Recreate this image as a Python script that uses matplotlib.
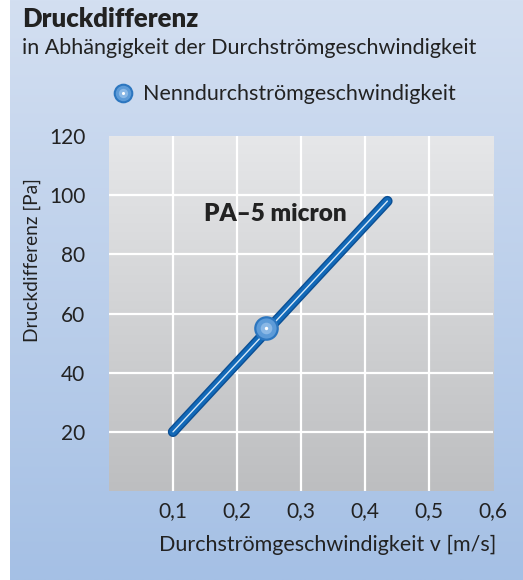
import numpy as np
import matplotlib
matplotlib.use("Agg")
import matplotlib.pyplot as plt
from matplotlib.colors import LinearSegmentedColormap

plt.rcParams['font.family'] = ['Lato', 'DejaVu Sans']

# data
v_line = [0.1, 0.435]          # m/s
dp_line = [20, 98]             # Pa
v_nominal = [0.245]
dp_nominal = [55]
x_ticks = [0.1, 0.2, 0.3, 0.4, 0.5, 0.6]
x_ticklabels = ["0,1", "0,2", "0,3", "0,4", "0,5", "0,6"]
y_ticks = [20, 40, 60, 80, 100, 120]
series_label = "PA–5 micron"
legend_label = "Nenndurchströmgeschwindigkeit"

TXT = "#222222"

fig = plt.figure(figsize=(5.23, 5.8), dpi=100)

# blue panel background with vertical gradient
bg = fig.add_axes([10 / 523, 0, 513 / 523, 1], zorder=-10)
panel_cmap = LinearSegmentedColormap.from_list("panel", ["#d3dff1", "#a5c0e5"])
bg.imshow(np.linspace(0, 1, 256).reshape(-1, 1), cmap=panel_cmap, aspect="auto",
          extent=[0, 1, 0, 1])
bg.axis("off")

ax = fig.add_axes([109 / 523, 89 / 580, 384 / 523, 355 / 580])
plot_cmap = LinearSegmentedColormap.from_list("plot", ["#e6e7e9", "#bdbec0"])
ax.imshow(np.linspace(0, 1, 256).reshape(-1, 1), cmap=plot_cmap, aspect="auto",
          extent=[0, 0.6, 0, 120], zorder=0)
ax.set_xlim(0, 0.6)
ax.set_ylim(0, 120)

for x in x_ticks[:-1]:
    ax.axvline(x, color="white", lw=1.6, zorder=1)
for y in y_ticks[:-1]:
    ax.axhline(y, color="white", lw=1.6, zorder=1)

# line with highlight
ax.plot(v_line, dp_line, color="#0b4f94", lw=7.5, solid_capstyle="round", zorder=3)
ax.plot(v_line, dp_line, color="#1269b8", lw=5.5, solid_capstyle="round", zorder=3)
ax.plot(v_line, dp_line, color="#d6e8f7", lw=1.0, solid_capstyle="round", zorder=4)

# nominal point
ax.scatter(v_nominal, dp_nominal, s=260, color="#5d9bd8", edgecolors="#2c76bf",
           linewidths=1.6, zorder=5)
ax.scatter(v_nominal, dp_nominal, s=70, color="#8ab8e6", linewidths=0, zorder=6)
ax.scatter(v_nominal, dp_nominal, s=6, color="white", linewidths=0, zorder=7)

ax.text(0.148, 93.5, series_label, fontsize=17.5, fontweight="heavy", color=TXT,
        va="center", ha="left", zorder=6)

ax.set_xticks(x_ticks)
ax.set_xticklabels(x_ticklabels)
ax.set_yticks(y_ticks)
ax.tick_params(length=0, labelsize=15, labelcolor=TXT)
ax.tick_params(axis="x", pad=7)
ax.tick_params(axis="y", pad=17)
for s in ax.spines.values():
    s.set_visible(False)

ax.set_xlabel("Durchströmgeschwindigkeit v [m/s]", fontsize=15.5, color=TXT,
              labelpad=10, x=0.57)
ax.set_ylabel("Druckdifferenz [Pa]", fontsize=13.8, color=TXT, labelpad=6, y=0.65)

# titles and legend
fig.text(22 / 523, 1 - 19 / 580, "Druckdifferenz", fontsize=18.5, fontweight="heavy",
         color=TXT, va="center", ha="left")
fig.text(22 / 523, 1 - 48 / 580, "in Abhängigkeit der Durchströmgeschwindigkeit",
         fontsize=15.5, color=TXT, va="center", ha="left")
leg_xy = ([123 / 523], [1 - 93 / 580])
bg.scatter(*leg_xy, s=160, color="#5d9bd8", edgecolors="#2c76bf", linewidths=1.5,
           transform=fig.transFigure, clip_on=False, zorder=5)
bg.scatter(*leg_xy, s=45, color="#8ab8e6", linewidths=0,
           transform=fig.transFigure, clip_on=False, zorder=6)
bg.scatter(*leg_xy, s=5, color="white", linewidths=0,
           transform=fig.transFigure, clip_on=False, zorder=7)
fig.text(143 / 523, 1 - 94 / 580, legend_label, fontsize=15.5, color=TXT,
         va="center", ha="left")

fig.savefig("out.png", dpi=100)
